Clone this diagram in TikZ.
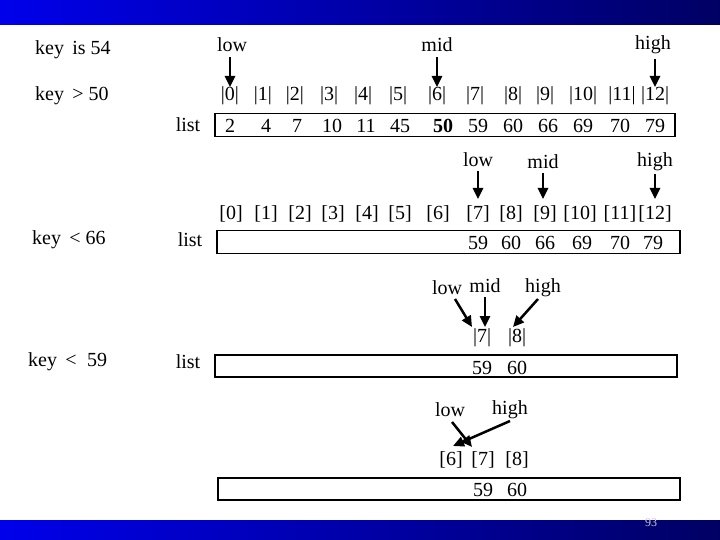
\documentclass[tikz,border=0pt]{standalone}
\usepackage{fontspec}
\setmainfont{Liberation Serif}
\usetikzlibrary{arrows.meta}
\definecolor{barL}{RGB}{0,0,235}
\definecolor{barR}{RGB}{0,0,100}
\tikzset{
 t/.style={font=\fontsize{20}{21}\selectfont, inner sep=0pt},
 lab/.style={font=\fontsize{20}{21}\selectfont, inner sep=0pt},
 box/.style={draw, line width=1.5pt},
 ar/.style={-{Triangle[length=11pt,width=10pt]}, line width=2.5pt}
}
\begin{document}
\begin{tikzpicture}[x=1pt,y=-1pt]
\useasboundingbox (0,0) rectangle (720,540);
\fill[white] (0,0) rectangle (720,540);
\shade[left color=barL,right color=barR] (0,0) rectangle (720,25);
\shade[left color=barL,right color=barR] (0,520) rectangle (720,540);
\node[font=\fontsize{12}{12}\selectfont,text=gray!40] (pg) at (651,523) {93};
% row 1
\node[lab,anchor=west] (k1) at (35,50) {key\, is 54};
\node[lab,anchor=west] (k2) at (35,96) {key\, > 50};
\node[lab] (lo1) at (232,45) {low};
\node[lab] (mi1) at (437,45) {mid};
\node[lab] (hi1) at (653,45) {high};
\coordinate (lo1e) at (230,87);
\coordinate (mi1e) at (437,87);
\coordinate (hi1e) at (655,87);
\draw[ar] (230,57) -- (lo1e);
\draw[ar] (437,57) -- (mi1e);
\draw[ar] (655,59) -- (hi1e);
\foreach \i/\x in {0/230,1/263,2/295,3/329,4/363,5/398,6/437,7/475,8/513,9/545,10/583,11/622,12/655}
  \node[t] (ia\i) at (\x,96) {|\i|};
\node[t] (l1) at (188,125) {list};
\node[box,minimum width=460pt,minimum height=23pt,inner sep=0pt] (b1) at (445,125) {};
\foreach \v/\x in {2/230,4/266,7/297,10/332,11/366,45/400,59/478,60/513,66/548,69/583,70/620,79/655}
  \node[t] (va\v) at (\x,126) {\v};
\node[t,font=\fontsize{20}{21}\selectfont\bfseries] (va50) at (443,126) {50};
% row 2
\node[lab] (lo2) at (478,160) {low};
\node[lab] (mi2) at (543,162) {mid};
\node[lab] (hi2) at (655,162) {high};
\coordinate (lo2e) at (478,199);
\coordinate (mi2e) at (543,199);
\coordinate (hi2e) at (655,199);
\draw[ar] (478,171) -- (lo2e);
\draw[ar] (543,173) -- (mi2e);
\draw[ar] (655,174) -- (hi2e);
\foreach \i/\x in {0/231,1/266,2/300,3/333,4/367,5/400,6/438,7/478,8/511,9/545,10/580,11/620,12/655}
  \node[t] (ib\i) at (\x,214) {[\i]};
\node[lab,anchor=west] (k3) at (32,240) {key\, < 66};
\node[t] (l2) at (190,240) {list};
\node[box,minimum width=463pt,minimum height=23pt,inner sep=0pt] (b2) at (448.5,242) {};
\foreach \v/\x in {59/478,60/511,66/545,69/582,70/620,79/653}
  \node[t] (vb\v) at (\x,243) {\v};
% row 3
\node[lab] (lo3) at (447,288) {low};
\node[lab] (mi3) at (485,286) {mid};
\node[lab] (hi3) at (543,288) {high};
\coordinate (lo3e) at (472,327);
\coordinate (mi3e) at (485,327);
\coordinate (hi3e) at (513,327);
\draw[ar] (455,299) -- (lo3e);
\draw[ar] (485,297) -- (mi3e);
\draw[ar] (538,299) -- (hi3e);
\node[t] (ic7) at (482,338) {|7|};
\node[t] (ic8) at (517,338) {|8|};
\node[lab,anchor=west] (k4) at (28,362) {key\, < \;59};
\node[t] (l3) at (188,362) {list};
\node[box,minimum width=462pt,minimum height=22pt,inner sep=0pt] (b3) at (446,366) {};
\node[t] (vc59) at (482,368) {59};
\node[t] (vc60) at (517,368) {60};
% row 4
\node[lab] (lo4) at (450,410) {low};
\node[lab] (hi4) at (510,410) {high};
\coordinate (lo4e) at (472,447);
\coordinate (hi4e) at (453,446);
\draw[ar] (452,422) -- (lo4e);
\draw[ar] (510,421) -- (hi4e);
\node[t] (id6) at (451,460) {[6]};
\node[t] (id7) at (483,460) {[7]};
\node[t] (id8) at (517,460) {[8]};
\node[box,minimum width=462pt,minimum height=22pt,inner sep=0pt] (b4) at (449,489) {};
\node[t] (vd59) at (483,490) {59};
\node[t] (vd60) at (517,490) {60};
\end{tikzpicture}
\end{document}
